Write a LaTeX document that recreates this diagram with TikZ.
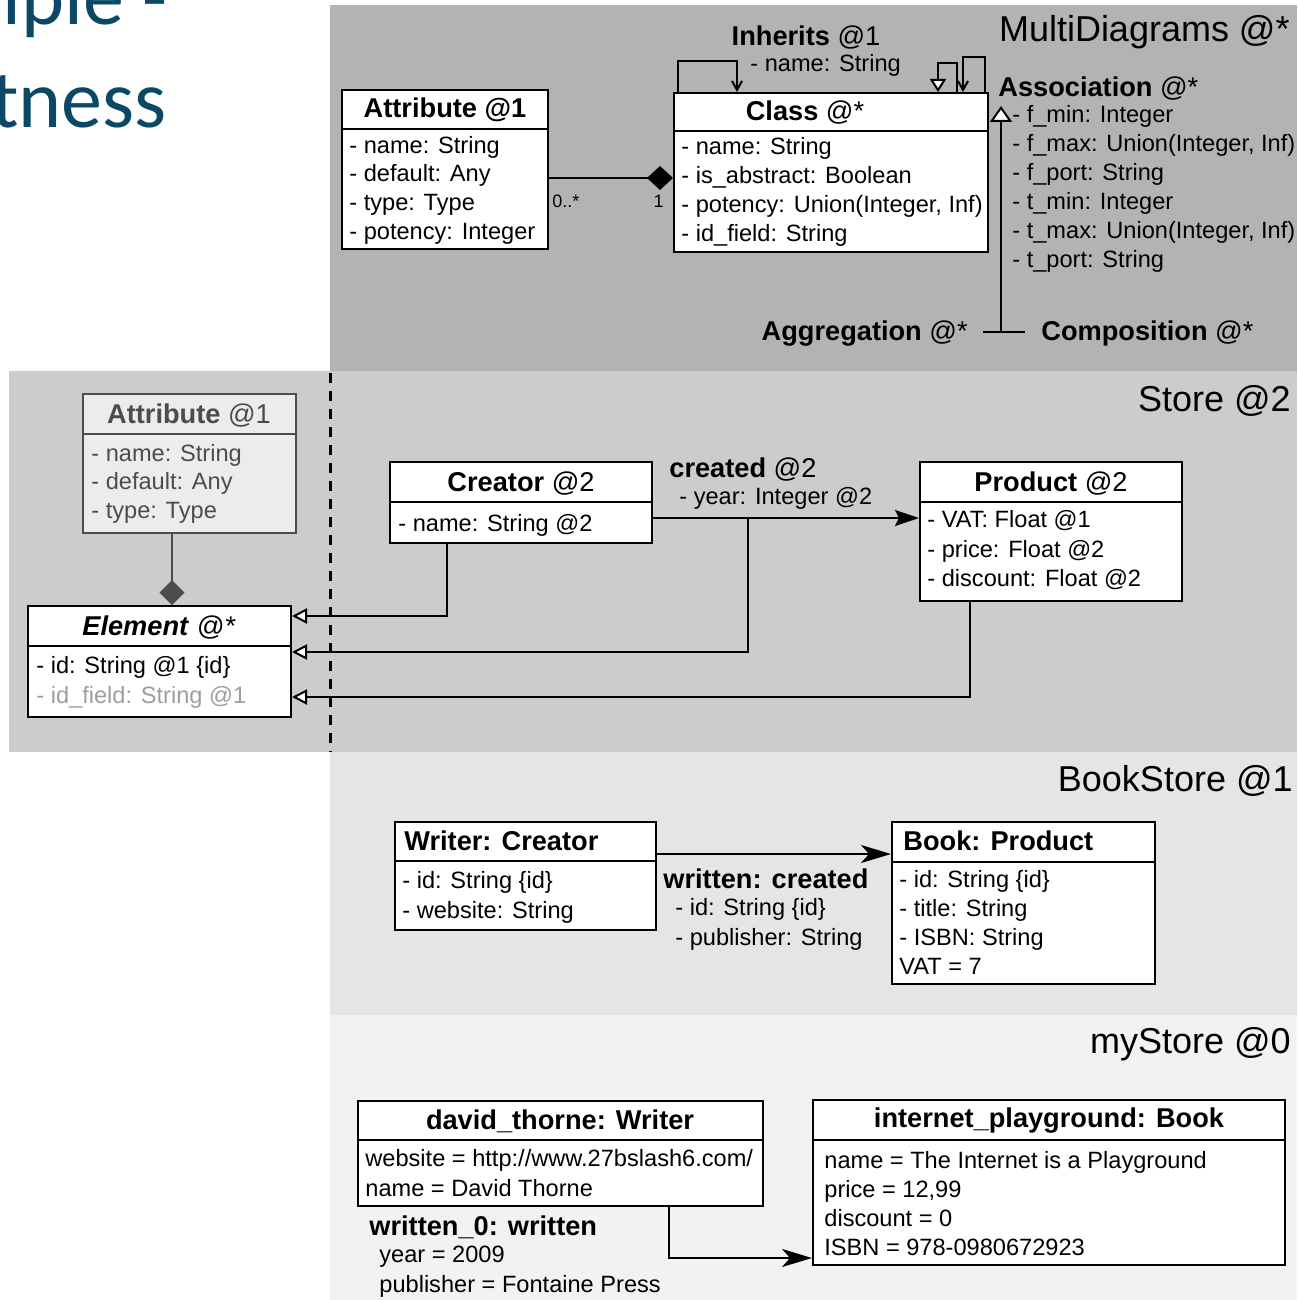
\documentclass[tikz,border=0pt]{standalone}
\usepackage{fontspec}
\setmainfont{Liberation Sans}
\newfontfamily\slidefont{Carlito}
\usetikzlibrary{arrows.meta,fit,calc}

\definecolor{bandA}{gray}{0.702}
\definecolor{bandB}{gray}{0.80}
\definecolor{bandC}{gray}{0.898}
\definecolor{bandD}{gray}{0.949}
\definecolor{slideblue}{RGB}{10,72,102}
\definecolor{ghost}{gray}{0.30}
\definecolor{ghostfill}{gray}{0.925}
\definecolor{faded}{gray}{0.62}

\tikzset{
  umlbox/.style={draw, fill=white, line width=1pt, inner sep=0pt},
  ghostbox/.style={draw=ghost, fill=ghostfill, line width=1pt, inner sep=0pt},
  line/.style={anchor=base west, inner sep=0pt, font=\fontsize{11.8}{14}\selectfont},
  title/.style={anchor=base, inner sep=0pt, font=\fontsize{13.6}{16}\selectfont},
  titleW/.style={anchor=base west, inner sep=0pt, font=\fontsize{13.6}{16}\selectfont},
  titleE/.style={anchor=base east, inner sep=0pt, font=\fontsize{13.6}{16}\selectfont},
  layer/.style={anchor=base east, inner sep=0pt, font=\fontsize{18}{21}\selectfont},
  mult/.style={inner sep=0pt, font=\fontsize{9}{11}\selectfont},
  wire/.style={line width=1pt},
  gen/.style={wire, -{Triangle[open, length=7.5pt, width=7.5pt, fill=white]}},
  nav/.style={wire, -{Straight Barb[length=4.5pt, width=5pt]}},
  dirassoc/.style={wire, -{Stealth[length=12pt, width=8pt, inset=2pt]}},
  link/.style={wire, -{Stealth[length=15pt, width=9pt, inset=4pt]}},
  slide/.style={anchor=base west, inner sep=0pt, text=slideblue, font=\slidefont\fontsize{41}{48}\selectfont},
}

\begin{document}
\begin{tikzpicture}[x=0.5pt, y=-0.5pt]
\useasboundingbox (0,0) rectangle (1297,1300);
\clip (0,0) rectangle (1297,1300);

% slide heading fragments
\node[slide] (sl1) at (2,25) {iple -};
\node[slide] (sl2) at (-9,128) {tness};

% layer backgrounds
\fill[bandB] (9,371) rectangle (1297,752);
\fill[bandA] (330,5) rectangle (1297,371);
\fill[bandC] (330,752) rectangle (1297,1015);
\fill[bandD] (330,1015) rectangle (1297,1300);
\draw[line width=1.5pt, dash pattern=on 5pt off 4pt] (330,373) -- (330,752);

% ---------------- MultiDiagrams @*
\node[layer] (mdT) at (1290,42) {MultiDiagrams @*};

\node[umlbox, fit={(342,90) (548,249)}] (attrM) {};
\draw[wire] (attrM.west |- 0,129) -- (attrM.east |- 0,129);
\node[title] (attrMt) at (445,118) {\textbf{Attribute @1}};
\node[line] (attrM1) at (349,154) {- name: String};
\node[line] (attrM2) at (349,182) {- default: Any};
\node[line] (attrM3) at (349,211) {- type: Type};
\node[line] (attrM4) at (349,240) {- potency: Integer};

\node[umlbox, fit={(674,93) (988,252)}] (classM) {};
\draw[wire] (classM.west |- 0,131) -- (classM.east |- 0,131);
\node[title] (classMt) at (805,121) {\textbf{Class} @*};
\node[line] (classM1) at (681,155) {- name: String};
\node[line] (classM2) at (681,184) {- is\_abstract: Boolean};
\node[line] (classM3) at (681,213) {- potency: Union(Integer, Inf)};
\node[line] (classM4) at (681,242) {- id\_field: String};

\draw[wire, -{Diamond[length=13pt, width=12pt]}] (attrM.east |- 0,178) -- (classM.west |- 0,178);
\node[mult, anchor=base west] (mFrom) at (552,208) {0..*};
\node[mult, anchor=base east] (mTo) at (664,208) {1};

% self relations of Class
\draw[nav] (classM.north -| 678,0) -- (678,61) -- (737,61) -- (classM.north -| 737,0);
\node[title] (inhT) at (806,46) {\textbf{Inherits} @1};
\node[line] (inhA) at (750,72) {- name: String};
\draw[wire, -{Triangle[open, length=6.5pt, width=8pt, fill=white]}] (classM.north -| 957,0) -- (957,63) -- (938,63) -- (classM.north -| 938,0);
\draw[nav] (classM.north -| 985,0) -- (985,57) -- (963,57) -- (classM.north -| 963,0);

% Association and its specialisations
\node[titleW] (assocT) at (998,97) {\textbf{Association} @*};
\node[line] (assoc1) at (1012,123) {- f\_min: Integer};
\node[line] (assoc2) at (1012,152) {- f\_max: Union(Integer, Inf)};
\node[line] (assoc3) at (1012,181) {- f\_port: String};
\node[line] (assoc4) at (1012,210) {- t\_min: Integer};
\node[line] (assoc5) at (1012,239) {- t\_max: Union(Integer, Inf)};
\node[line] (assoc6) at (1012,268) {- t\_port: String};
\coordinate (agc) at (1001,332);
\coordinate (assocTip) at (1001,106);
\draw[wire, -{Triangle[open, length=8pt, width=11pt, fill=white]}] (agc) -- (assocTip);
\node[titleE] (aggT) at (968,340) {\textbf{Aggregation} @*};
\node[titleW] (compT) at (1041,340) {\textbf{Composition} @*};
\draw[wire] ($(agc)+(-18,0)$) -- ($(agc)+(24,0)$);

% ---------------- Store @2
\node[layer] (stT) at (1291,411) {Store @2};

\node[ghostbox, fit={(83,394) (296,533)}] (attrS) {};
\draw[wire, ghost] (attrS.west |- 0,434) -- (attrS.east |- 0,434);
\node[title, text=ghost] (attrSt) at (189,423) {\textbf{Attribute} @1};
\node[line, text=ghost] (attrS1) at (91,461) {- name: String};
\node[line, text=ghost] (attrS2) at (91,489) {- default: Any};
\node[line, text=ghost] (attrS3) at (91,518) {- type: Type};

\node[umlbox, fit={(28,606) (291,717)}] (elem) {};
\draw[wire] (elem.west |- 0,646) -- (elem.east |- 0,646);
\node[title] (elemT) at (159,635) {\textbf{\itshape Element} \textit{@*}};
\node[line] (elem1) at (36,673) {- id: String @1 \{id\}};
\node[line, text=faded] (elem2) at (36,703) {- id\_field: String @1};

\draw[wire, ghost, -{Diamond[length=12.5pt, width=12.5pt, color=ghost]}] (attrS.south -| 172,0) -- (elem.north -| 172,0);

\node[umlbox, fit={(390,462) (652,543)}] (creator) {};
\draw[wire] (creator.west |- 0,502) -- (creator.east |- 0,502);
\node[title] (creatorT) at (521,491) {\textbf{Creator} @2};
\node[line] (creator1) at (398,531) {- name: String @2};

\node[umlbox, fit={(920,462) (1182,601)}] (product) {};
\draw[wire] (product.west |- 0,502) -- (product.east |- 0,502);
\node[title] (productT) at (1051,491) {\textbf{Product} @2};
\node[line] (product1) at (927,527) {- VAT: Float @1};
\node[line] (product2) at (927,557) {- price: Float @2};
\node[line] (product3) at (927,586) {- discount: Float @2};

\draw[dirassoc] (creator.east |- 0,518) -- (product.west |- 0,518);
\node[titleW] (createdT) at (669,477) {\textbf{created} @2};
\node[line] (createdA) at (679,504) {- year: Integer @2};
\coordinate (createdMid) at (748,518);

\draw[gen] (creator.south -| 447,0) |- (elem.east |- 0,616);
\draw[gen] (createdMid) |- (elem.east |- 0,652);
\draw[gen] (product.south -| 970,0) |- (elem.east |- 0,697);

% ---------------- BookStore @1
\node[layer] (bsT) at (1293,791) {BookStore @1};

\node[umlbox, fit={(395,822) (656,930)}] (writer) {};
\draw[wire] (writer.west |- 0,861) -- (writer.east |- 0,861);
\node[titleW] (writerT) at (404,850) {\textbf{Writer: Creator}};
\node[line] (writer1) at (402,888) {- id: String \{id\}};
\node[line] (writer2) at (402,918) {- website: String};

\node[umlbox, fit={(892,822) (1155,984)}] (book) {};
\draw[wire] (book.west |- 0,862) -- (book.east |- 0,862);
\node[titleW] (bookT) at (903,850) {\textbf{Book: Product}};
\node[line] (book1) at (899,887) {- id: String \{id\}};
\node[line] (book2) at (899,916) {- title: String};
\node[line] (book3) at (899,945) {- ISBN: String};
\node[line] (book4) at (899,974) {VAT = 7};

\draw[link] (writer.east |- 0,854) -- (book.west |- 0,854);
\node[titleW] (writtenT) at (663,888) {\textbf{written: created}};
\node[line] (written1) at (675,915) {- id: String \{id\}};
\node[line] (written2) at (675,945) {- publisher: String};

% ---------------- myStore @0
\node[layer] (msT) at (1291,1053) {myStore @0};

\node[umlbox, fit={(358,1101) (763,1206)}] (david) {};
\draw[wire] (david.west |- 0,1140) -- (david.east |- 0,1140);
\node[title] (davidT) at (560,1129) {\textbf{david\_thorne: Writer}};
\node[line] (david1) at (365,1166) {website = http://www.27bslash6.com/};
\node[line] (david2) at (365,1196) {name = David Thorne};

\node[umlbox, fit={(813,1100) (1285,1265)}] (inet) {};
\draw[wire] (inet.west |- 0,1140) -- (inet.east |- 0,1140);
\node[title] (inetT) at (1049,1127) {\textbf{internet\_playground: Book}};
\node[line] (inet1) at (824,1168) {name = The Internet is a Playground};
\node[line] (inet2) at (824,1197) {price = 12,99};
\node[line] (inet3) at (824,1226) {discount = 0};
\node[line] (inet4) at (824,1255) {ISBN = 978-0980672923};

\draw[link] (david.south -| 669,0) |- (inet.west |- 0,1258);
\node[titleW] (w0T) at (369,1235) {\textbf{written\_0: written}};
\node[line] (w01) at (379,1262) {year = 2009};
\node[line] (w02) at (379,1292) {publisher = Fontaine Press};
\end{tikzpicture}
\end{document}
